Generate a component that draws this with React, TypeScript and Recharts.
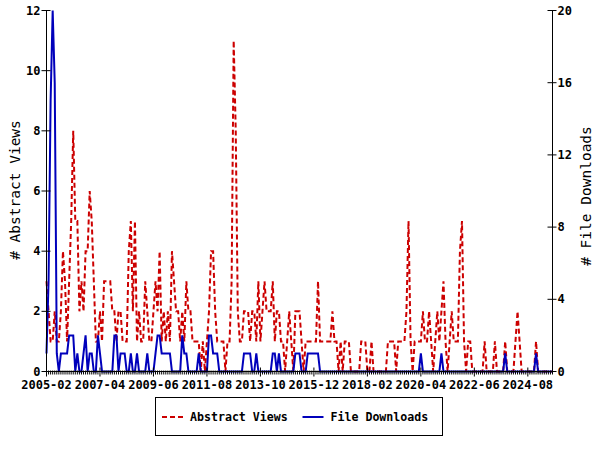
import { LineChart, Line, XAxis, YAxis, Legend } from 'recharts';

// monthly counts, 2005-02 .. 2025-08 (one entry per month)
const abstractViews = [
  3, 2, 1, 1, 2, 1, 1, 2, 4, 3,
  1, 3, 5, 8, 5, 5, 2, 3, 2, 4,
  4, 6, 5, 3, 1, 1, 2, 1, 3, 3,
  3, 3, 2, 2, 1, 2, 2, 1, 1, 1,
  4, 5, 2, 5, 1, 2, 1, 1, 3, 2,
  1, 1, 2, 3, 2, 4, 1, 2, 1, 2,
  1, 4, 3, 2, 2, 1, 2, 1, 3, 2,
  2, 1, 1, 1, 1, 0, 1, 0, 1, 2,
  4, 4, 2, 1, 1, 1, 1, 0, 1, 1,
  3, 11, 8, 2, 1, 1, 2, 2, 2, 1,
  2, 2, 1, 3, 1, 2, 3, 2, 2, 2,
  3, 1, 2, 2, 1, 1, 0, 1, 2, 1,
  0, 2, 2, 2, 1, 0, 1, 1, 1, 1,
  1, 1, 3, 1, 1, 1, 1, 1, 1, 2,
  1, 1, 0, 1, 0, 1, 1, 1, 0, 0,
  0, 0, 0, 1, 1, 1, 0, 0, 1, 0,
  0, 0, 0, 0, 0, 0, 1, 1, 1, 1,
  0, 1, 1, 1, 1, 2, 5, 1, 0, 1,
  1, 1, 1, 2, 1, 1, 2, 1, 0, 1,
  2, 1, 2, 3, 1, 0, 1, 2, 1, 1,
  1, 4, 5, 1, 0, 1, 1, 0, 0, 0,
  0, 0, 0, 1, 0, 0, 0, 0, 1, 0,
  0, 0, 0, 1, 0, 0, 0, 0, 1, 2,
  1, 0, 0, 0, 0, 0, 0, 0, 1, 0,
  0, 0, 0, 0, 0, 0, 0,
];

const fileDownloads = [
  1, 5, 15, 20, 16, 1, 0, 1, 1, 1,
  1, 2, 2, 2, 0, 1, 0, 0, 1, 2,
  0, 1, 1, 0, 0, 2, 1, 0, 0, 0,
  0, 0, 0, 2, 2, 0, 1, 1, 1, 0,
  0, 1, 0, 0, 1, 0, 0, 0, 0, 1,
  0, 0, 0, 1, 2, 2, 1, 1, 1, 1,
  1, 0, 0, 0, 0, 0, 2, 1, 1, 0,
  0, 0, 0, 0, 1, 0, 0, 0, 0, 2,
  2, 1, 1, 1, 0, 0, 0, 0, 0, 0,
  0, 0, 0, 0, 0, 0, 1, 1, 1, 1,
  0, 0, 1, 0, 0, 0, 0, 0, 0, 0,
  1, 1, 0, 1, 0, 0, 0, 0, 0, 0,
  0, 1, 1, 1, 0, 0, 0, 1, 1, 1,
  1, 1, 1, 0, 0, 0, 0, 0, 0, 0,
  0, 0, 0, 0, 0, 0, 0, 0, 0, 0,
  0, 0, 0, 0, 0, 0, 0, 0, 0, 0,
  0, 0, 0, 0, 0, 0, 0, 0, 0, 0,
  0, 0, 0, 0, 0, 0, 0, 0, 0, 0,
  0, 0, 1, 0, 0, 0, 0, 0, 0, 0,
  0, 0, 1, 0, 0, 0, 0, 0, 0, 0,
  0, 0, 0, 0, 0, 0, 0, 0, 0, 0,
  0, 0, 0, 0, 0, 0, 0, 0, 0, 0,
  0, 0, 0, 1, 0, 0, 0, 0, 0, 0,
  0, 0, 0, 0, 0, 0, 0, 0, 1, 0,
  0, 0, 0, 0, 0, 0, 0,
];

// labelled ticks every 26 months
const majorTicks = [0, 26, 52, 78, 104, 130, 156, 182, 208, 234];
const tickLabels = [
  '2005-02', '2007-04', '2009-06', '2011-08', '2013-10',
  '2015-12', '2018-02', '2020-04', '2022-06', '2024-08',
];
const viewTicks = [0, 2, 4, 6, 8, 10, 12];
const downloadTicks = [0, 4, 8, 12, 16, 20];

const RED = '#cc0000';
const BLUE = '#0000bb';
const MONO = '"DejaVu Sans Mono", "Liberation Mono", monospace';

const data = abstractViews.map((v, i) => ({ month: i, views: v, downloads: fileDownloads[i] }));
const monthTicks = data.map((d) => d.month);
const lastMonth = data.length - 1;

const tickText = { fontFamily: MONO, fontWeight: 'bold' as const, fontSize: 12, fill: '#000' };

function MonthTick({ x, y, payload }: any) {
  const k = majorTicks.indexOf(payload.value);
  const major = k >= 0;
  return (
    <g>
      <line x1={x} x2={x} y1={y - (major ? 4 : 1)} y2={y + (major ? 5 : 3)} stroke="#000" />
      {major && (
        <text x={x} y={y + 17} textAnchor="middle" style={tickText}>
          {tickLabels[k]}
        </text>
      )}
    </g>
  );
}

function LeftTick({ x, y, payload }: any) {
  return (
    <g>
      <line x1={x - 5} x2={x + 4} y1={y} y2={y} stroke="#000" />
      <text x={x - 6} y={y} dy="0.34em" textAnchor="end" style={tickText}>
        {payload.value}
      </text>
    </g>
  );
}

function RightTick({ x, y, payload }: any) {
  return (
    <g>
      <line x1={x - 5} x2={x + 4} y1={y} y2={y} stroke="#000" />
      <text x={x + 5} y={y} dy="0.34em" textAnchor="start" style={tickText}>
        {payload.value}
      </text>
    </g>
  );
}

function AxisTitle({ text, cx, cy }: { text: string; cx: number; cy: number }) {
  return (
    <text
      x={cx}
      y={cy}
      transform={`rotate(-90 ${cx} ${cy})`}
      textAnchor="middle"
      dominantBaseline="central"
      style={{ fontFamily: MONO, fontSize: 14.5, fill: '#000' }}
    >
      {text}
    </text>
  );
}

function LegendBox({ payload }: any) {
  const items = payload ?? [];
  const offsets = [0, 140.5];
  return (
    <svg width={289} height={40} style={{ position: 'absolute', left: 155, top: 397 }}>
      <rect x={0.5} y={0.5} width={287} height={38} fill="#fff" stroke="#000" />
      {items.map((it: any, i: number) => {
        const ox = offsets[i] ?? 0;
        return (
          <g key={it.value}>
            <line
              x1={ox + 7}
              x2={ox + 28}
              y1={20}
              y2={20}
              stroke={it.color}
              strokeWidth={2}
              strokeDasharray={it.payload?.strokeDasharray}
            />
            <text
              x={ox + 35}
              y={20}
              dy="0.36em"
              style={{ fontFamily: MONO, fontWeight: 'bold', fontSize: 11.6, fill: '#000' }}
            >
              {it.value}
            </text>
          </g>
        );
      })}
    </svg>
  );
}

export default function App() {
  return (
    <div style={{ position: 'absolute', left: 0, top: 0, background: '#fff' }}>
      <LineChart width={600} height={450} data={data} margin={{ top: 10.5, right: 0, left: 0, bottom: 48.5 }}>
        <XAxis
          dataKey="month"
          type="number"
          domain={[0, lastMonth]}
          ticks={monthTicks}
          interval={0}
          tickSize={0}
          tickMargin={0}
          tickLine={false}
          tick={<MonthTick />}
          axisLine={{ stroke: '#000' }}
          height={30}
        />
        <XAxis
          xAxisId="top"
          orientation="top"
          dataKey="month"
          type="number"
          domain={[0, lastMonth]}
          tick={false}
          tickLine={false}
          axisLine={{ stroke: '#000' }}
          height={0}
        />
        <YAxis
          yAxisId="views"
          orientation="left"
          domain={[0, 12]}
          ticks={viewTicks}
          interval={0}
          tickSize={0}
          tickMargin={0}
          tickLine={false}
          tick={<LeftTick />}
          axisLine={{ stroke: '#000' }}
          width={46.5}
          label={<AxisTitle text="# Abstract Views" cx={15} cy={190} />}
        />
        <YAxis
          yAxisId="downloads"
          orientation="right"
          domain={[0, 20]}
          ticks={downloadTicks}
          interval={0}
          tickSize={0}
          tickMargin={0}
          tickLine={false}
          tick={<RightTick />}
          axisLine={{ stroke: '#000' }}
          width={47.5}
          label={<AxisTitle text="# File Downloads" cx={585.5} cy={196} />}
        />
        <Legend
          content={<LegendBox />}
          wrapperStyle={{ left: 0, top: 0, width: 0, height: 0 }}
        />
        <Line
          yAxisId="views"
          type="linear"
          dataKey="views"
          name="Abstract Views"
          stroke={RED}
          strokeWidth={2}
          strokeDasharray="5 3"
          dot={false}
          isAnimationActive={false}
        />
        <Line
          yAxisId="downloads"
          type="linear"
          dataKey="downloads"
          name="File Downloads"
          stroke={BLUE}
          strokeWidth={2}
          dot={false}
          isAnimationActive={false}
        />
      </LineChart>
    </div>
  );
}
